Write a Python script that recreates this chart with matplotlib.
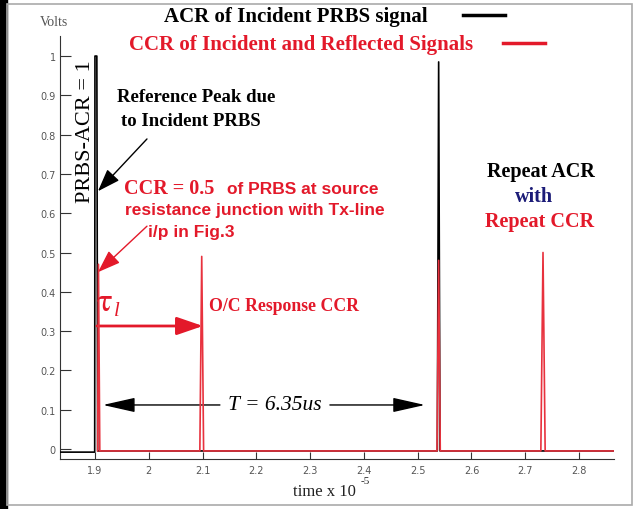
import matplotlib
matplotlib.use('Agg')
import matplotlib.pyplot as plt
from matplotlib.patches import Rectangle

# ACR of the incident PRBS (time in units of 1e-5 s, volts)
acr_t = [1.835, 1.8995, 1.900, 1.9035, 1.905, 2.5365, 2.539, 2.5415, 2.865]
acr_v = [-0.008, -0.008, 1.0, 1.0, -0.005, -0.005, 0.985, -0.005, -0.005]

# CCR of incident and reflected signals
ccr_t = [1.905, 1.9065, 1.909, 2.095, 2.0985, 2.102, 2.536, 2.539, 2.542,
         2.729, 2.733, 2.737, 2.865]
ccr_v = [-0.005, 0.47, -0.005, -0.005, 0.49, -0.005, -0.005, 0.48, -0.005,
         -0.005, 0.50, -0.005, -0.005]

x_ticks = [1.9, 2.0, 2.1, 2.2, 2.3, 2.4, 2.5, 2.6, 2.7, 2.8]
x_labels = ['1.9', '2', '2.1', '2.2', '2.3', '2.4', '2.5', '2.6', '2.7', '2.8']
y_ticks = [0, 0.1, 0.2, 0.3, 0.4, 0.5, 0.6, 0.7, 0.8, 0.9, 1.0]
y_labels = ['0', '0.1', '0.2', '0.3', '0.4', '0.5', '0.6', '0.7', '0.8', '0.9', '1']

RED = '#e3192a'
LINE_RED = '#e8323e'
SERIF = 'Liberation Serif'
SANS = 'Liberation Sans'

W, H = 634, 510
fig = plt.figure(figsize=(W / 100, H / 100), dpi=100)


def px(x, y):
    # pixel position (from top-left) -> figure fraction
    return x / W, 1 - y / H


# outer frame
fig.patches.append(Rectangle((0, 0), 7 / W, 1, transform=fig.transFigure,
                             color='black', zorder=0))
fig.patches.append(Rectangle((7 / W, 4 / H), (W - 9) / W, (H - 9) / H,
                             transform=fig.transFigure, fill=False,
                             edgecolor='#aaaaaa', lw=1.2, zorder=0))

ax = fig.add_axes([60 / W, 50 / H, 554 / W, 423 / H])
ax.plot(acr_t, acr_v, color='black', lw=1.2, zorder=3)
ax.plot(ccr_t, ccr_v, color=LINE_RED, lw=1.2, zorder=4)

ax.set_xlim(1.835, 2.865)
ax.set_ylim(-0.0255, 1.051)
for s in ['top', 'right']:
    ax.spines[s].set_visible(False)
ax.spines['left'].set_color('#333333')
ax.spines['bottom'].set_color('#333333')
ax.set_xticks(x_ticks)
ax.set_xticklabels(x_labels)
ax.set_yticks(y_ticks)
ax.set_yticklabels(y_labels)
ax.tick_params(axis='y', direction='in', length=8, color='#333333',
               labelsize=7, labelcolor='#555555', pad=3)
ax.tick_params(axis='x', direction='in', length=5, color='#333333',
               labelsize=7, labelcolor='#555555', pad=4)

# axis captions
fig.text(*px(40, 22), 'Volts', family=SERIF, fontsize=10, color='#555555',
         va='center', ha='left')
fig.text(*px(293, 492), 'time x 10', family=SERIF, fontsize=12, color='#222222',
         va='center', ha='left')
fig.text(*px(361, 482), '-5', family=SERIF, fontsize=8, color='#222222',
         va='center', ha='left')

# legend entries
fig.text(*px(164, 17), 'ACR of Incident PRBS signal', family=SERIF,
         weight='bold', fontsize=15, color='black', va='center', ha='left')
fig.lines.append(plt.Line2D([463 / W, 505 / W], [1 - 16 / H, 1 - 16 / H],
                            transform=fig.transFigure, color='black', lw=2.5))
fig.text(*px(129, 45), 'CCR of Incident and Reflected Signals', family=SERIF,
         weight='bold', fontsize=15, color=RED, va='center', ha='left')
fig.lines.append(plt.Line2D([503 / W, 545 / W], [1 - 44 / H, 1 - 44 / H],
                            transform=fig.transFigure, color=RED, lw=2.5))

# annotations
fig.text(*px(85, 132), 'PRBS-ACR = 1', family=SERIF, fontsize=16,
         color='black', rotation=90, va='center', ha='center')
fig.text(*px(117, 98), 'Reference Peak due', family=SERIF, weight='bold',
         fontsize=13.5, color='black', va='center', ha='left')
fig.text(*px(121, 122), 'to Incident PRBS', family=SERIF, weight='bold',
         fontsize=13.5, color='black', va='center', ha='left')

fig.text(*px(124, 189), 'CCR = 0.5', family=SERIF, weight='bold',
         fontsize=14.5, color=RED, va='center', ha='left')
fig.text(*px(227, 189), 'of PRBS at source', family=SANS, weight='bold',
         fontsize=12.5, color=RED, va='center', ha='left')
fig.text(*px(125, 211), 'resistance junction with Tx-line', family=SANS,
         weight='bold', fontsize=12.5, color=RED, va='center', ha='left')
fig.text(*px(148, 233), 'i/p in Fig.3', family=SANS, weight='bold',
         fontsize=12.5, color=RED, va='center', ha='left')

# tau_l with italic subscript l
fig.text(*px(97, 303), 'τ', family=['STIXGeneral', 'DejaVu Serif'],
         fontsize=24, color=RED, va='center', ha='left')
fig.text(*px(114, 311), 'l', family=SERIF, style='italic', fontsize=15,
         color=RED, va='center', ha='left')
fig.text(*px(209, 307), 'O/C Response CCR', family=SERIF, weight='bold',
         fontsize=12.8, color=RED, va='center', ha='left')

fig.text(*px(228, 406), 'T = 6.35us', family=SERIF, style='italic',
         fontsize=15.5, color='black', va='center', ha='left')

fig.text(*px(541, 172), 'Repeat ACR', family=SERIF, weight='bold',
         fontsize=14.5, color='black', va='center', ha='center')
fig.text(*px(534, 197), 'with', family=SERIF, weight='bold',
         fontsize=14.5, color='#1c1c78', va='center', ha='center')
fig.text(*px(540, 222), 'Repeat CCR', family=SERIF, weight='bold',
         fontsize=14.5, color=RED, va='center', ha='center')

# arrows (data coordinates)
ax.annotate('', xy=(1.9056, 0.656), xytext=(1.9967, 0.789),
            arrowprops=dict(arrowstyle='-|>,head_length=1.4,head_width=0.5',
                            color='black', lw=1.0, shrinkA=0, shrinkB=0))
ax.annotate('', xy=(1.9056, 0.450), xytext=(1.9967, 0.567),
            arrowprops=dict(arrowstyle='-|>,head_length=1.4,head_width=0.5',
                            color=RED, lw=1.0, shrinkA=0, shrinkB=0))
ax.annotate('', xy=(2.1007, 0.313), xytext=(1.9037, 0.313),
            arrowprops=dict(arrowstyle='-|>,head_length=1.6,head_width=0.55',
                            color=RED, lw=2.0, shrinkA=0, shrinkB=0))
ax.annotate('', xy=(1.9149, 0.112), xytext=(2.1323, 0.112),
            arrowprops=dict(arrowstyle='-|>,head_length=2.0,head_width=0.45',
                            color='black', lw=1.0, shrinkA=0, shrinkB=0))
ax.annotate('', xy=(2.5134, 0.112), xytext=(2.3368, 0.112),
            arrowprops=dict(arrowstyle='-|>,head_length=2.0,head_width=0.45',
                            color='black', lw=1.0, shrinkA=0, shrinkB=0))

fig.savefig('out.png', dpi=100)
